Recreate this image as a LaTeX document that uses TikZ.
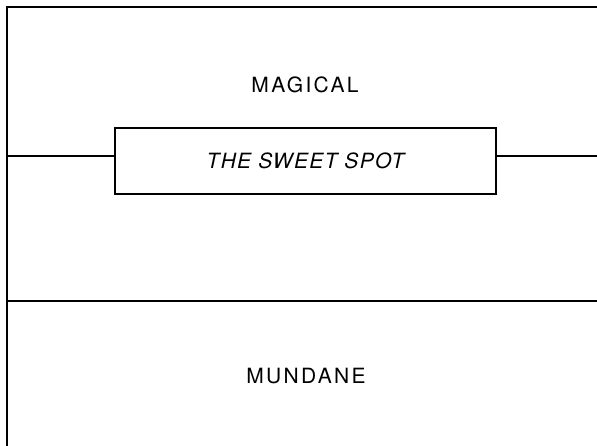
\documentclass[tikz,border=0pt]{standalone}
\usepackage{fontspec}
\setmainfont{TeX Gyre Heros}[LetterSpace=11]
\newfontfamily\spotfont{TeX Gyre Heros}[LetterSpace=6]
\begin{document}
\begin{tikzpicture}[x=1pt,y=-1pt]

\def\wid{597}
\def\hei{446}
\def\lft{7}
\def\tp{7}
\def\divy{301}
\def\midy{156}

\tikzset{region/.style = {inner sep=0pt, font=\fontsize{21}{25}\selectfont}}
\tikzset{spotbox/.style = {draw, line width=1.3pt, minimum width=381pt, minimum height=66pt, inner sep=0pt, font=\spotfont\fontsize{21}{25}\selectfont\itshape}}
\tikzset{frame/.style = {line width=1.3pt}}

\useasboundingbox (0,0) rectangle (\wid,\hei);

% outer frame and divider
\coordinate (TL) at (\lft,\tp);
\coordinate (TR) at (\wid,\tp);
\coordinate (BL) at (\lft,\hei);
\coordinate (DL) at (\lft,\divy);
\coordinate (DR) at (\wid,\divy);
\draw[frame] (BL) -- (TL) -- (TR);
\draw[frame] (DL) -- (DR);

\node[region] (magical) at (305,85) {MAGICAL};
\node[spotbox] (spot) at (305.5,161) {THE SWEET SPOT};
\node[region] (mundane) at (306,376) {MUNDANE};

\coordinate (SL) at (\lft,\midy);
\coordinate (SR) at (\wid,\midy);
\draw[frame] (SL) -- (spot.west |- SL);
\draw[frame] (spot.east |- SR) -- (SR);

\end{tikzpicture}
\end{document}
